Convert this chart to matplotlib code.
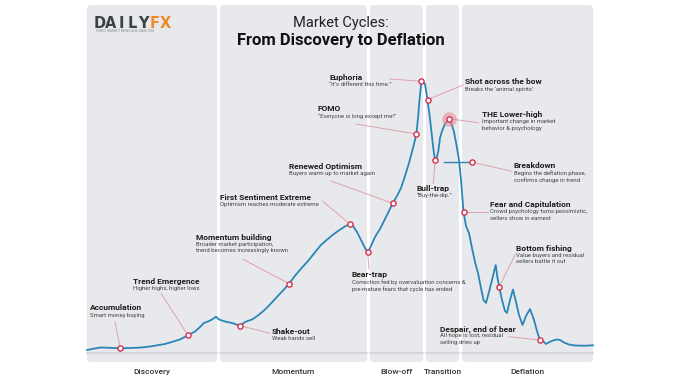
import matplotlib.pyplot as plt
from matplotlib.patches import FancyBboxPatch

plt.rcParams['font.family'] = ['Roboto', 'DejaVu Sans']

t = [87, 100, 110, 120.2, 130, 140, 150, 165, 180, 188, 195, 200, 204, 208, 212, 216,
     219, 225, 232, 240.2, 245, 252, 258, 264, 270, 276, 282, 289.2, 294, 299, 303,
     308, 312, 316, 321, 326, 332, 338, 344, 349.7, 353, 357, 361, 365, 367.7, 371,
     375, 380, 384, 388, 392.6, 397, 401, 405, 409, 413, 416.4, 418, 419.5, 421.4,
     423, 425, 427.5, 429.5, 431.5, 433.5, 435.2, 437, 438.5, 440, 442, 444.5, 448.6,
     451, 454, 456.5, 459, 461, 463.5, 466, 469, 472, 475, 478, 481, 483.5, 486, 489,
     492, 495.7, 497.5, 499.2, 502, 505, 507, 510, 513, 516, 519, 522.5, 526, 530,
     534, 537, 539.8, 543, 546, 549.5, 553, 557, 560, 564, 569, 575, 585, 593]
level = [350, 347.5, 347.8, 348.3, 348, 347.6, 346.5, 344, 339.5, 335.3, 331.5, 327,
         323, 321.5, 319.5, 316.7, 319.5, 321.5, 323, 325.7, 322, 319.5, 315.5, 310.5,
         304.5, 298, 291.5, 283.7, 277, 271, 266.5, 261, 256, 251, 245, 240.5, 235.5,
         231, 227, 224, 226, 232, 240, 248, 252.3, 246, 237, 229, 221, 213, 203.3, 196,
         188, 176, 163, 148, 134, 118, 100, 81.3, 82, 84, 99.7, 115, 132, 150, 160, 157,
         150, 138, 131, 125, 118.7, 122, 132, 145, 160, 180, 211.7, 226, 233, 248, 262,
         273, 288, 300, 303, 292, 280, 265, 278, 286.7, 300, 311, 313, 300, 289.5, 302,
         315, 325, 316, 309, 320, 331, 340, 341, 344, 342, 340.5, 339.5, 340, 342.5,
         344.5, 345.5, 345.7, 345.3]

phases = ['Discovery', 'Momentum', 'Blow-off', 'Transition', 'Deflation']
phase_start = [87, 220, 370, 426, 462]
phase_end = [217, 367, 423, 459, 593]

titles = ['Accumulation', 'Trend Emergence', 'Shake-out', 'Momentum building',
          'First Sentiment Extreme', 'Bear-trap', 'Renewed Optimism', 'FOMO',
          'Euphoria', 'Shot across the bow', 'Bull-trap', 'THE Lower-high',
          'Breakdown', 'Fear and Capitulation', 'Bottom fishing', 'Despair, end of bear']
notes = ['Smart money buying',
         'Higher highs, higher lows',
         'Weak hands sell',
         'Broader market participation,\ntrend becomes increasingly known',
         'Optimism reaches moderate extreme',
         'Correction fed by overvaluation concerns &\npre-mature fears that cycle has ended',
         'Buyers warm up to market again',
         '\u201cEveryone is long except me!\u201d',
         '\u201cIt\u2019s different this time.\u201d',
         'Breaks the \u2018animal spirits\u2019',
         '\u201cBuy-the-dip.\u201d',
         'Important change in market\nbehavior & psychology',
         'Begins the deflation phase,\nconfirms change in trend',
         'Crowd psychology turns pessimistic,\nsellers show in earnest',
         'Value buyers and residual\nsellers battle it out',
         'All hope is lost, residual\nselling dries up']
mark_t = [120.2, 188, 240.2, 289.2, 349.7, 367.7, 392.6, 416.4, 421.4, 427.5, 435.2,
          448.6, 472, 463.5, 499.2, 539.8]
mark_level = [348.3, 335.3, 325.7, 283.7, 224, 252.3, 203.3, 134, 81.3, 99.7, 160,
              118.7, 162.3, 211.7, 286.7, 340]

# layout of the call-outs: text position and where the thin leader ends
text_x = [89.5, 133, 272, 196, 220.5, 352, 289, 317.5, 329, 465, 416.5, 481.5, 514,
          490.5, 516, 439.5]
text_y = [308, 281.7, 331, 237.3, 197.7, 274.3, 166.3, 108.7, 77.3, 81.7, 188.3, 115,
          165.7, 205, 248, 329]
lead_x = [115, 161, 270, 243, 322.5, 369, 331, 356, 390, 463, 433.3, 478.5, 511, 488,
          515, 509]
lead_y = [321.7, 293.3, 333.3, 259.3, 201, 269.3, 181, 124, 79, 85, 183.3, 122.7, 171,
          211.7, 255, 336.7]

blue = '#2b86b8'
red = '#d7304c'
pink = '#dea2ac'

fig = plt.figure(figsize=(6.8, 3.82), dpi=100)
ax = fig.add_axes([0, 0, 1, 1])
ax.set_xlim(0, 680)
ax.set_ylim(382, 0)
ax.axis('off')

for name, x0, x1 in zip(phases, phase_start, phase_end):
    ax.add_patch(FancyBboxPatch((x0, 5), x1 - x0, 357,
                                boxstyle='round,pad=0,rounding_size=4',
                                fc='#e7e9ec', ec='none', zorder=0))
    ax.plot([x0, x1], [353, 353], color='#cfd2d7', lw=1.2, zorder=1)
    ax.text((x0 + x1) / 2, 372, name, ha='center', va='center', fontsize=6,
            fontweight='medium', color='#333333')

ax.plot(t, level, color=blue, lw=1.3, solid_joinstyle='round', zorder=3)
ax.plot([444, 472], [162.3, 162.3], color=blue, lw=1.0, zorder=3)

for i in range(len(titles)):
    ax.plot([mark_t[i], lead_x[i]], [mark_level[i], lead_y[i]], color=pink, lw=0.7,
            zorder=2)
    ax.text(text_x[i], text_y[i], titles[i], fontsize=6, fontweight='bold',
            color='#1c1c1c', va='center', ha='left')
    ax.text(text_x[i], text_y[i] + 4.5, notes[i], fontsize=4.3, color='#444444',
            va='top', ha='left', linespacing=1.3)

ax.scatter([mark_t[11]], [mark_level[11]], s=110, color='#e78592', alpha=0.55,
           lw=0, zorder=4)
ax.scatter(mark_t, mark_level, s=14, facecolor='white', edgecolor=red, lw=1.0,
           zorder=5)

# header
ax.text(340.5, 23, 'Market Cycles:', ha='center', va='center', fontsize=10.5,
        color='#222222')
ax.text(340.5, 41, 'From Discovery to Deflation', ha='center', va='center',
        fontsize=12, fontweight='bold', color='#111111')

logo = 'DAILYFX'
for k, ch in enumerate(logo):
    ax.text(100 + k * 10.9, 23, ch, ha='center', va='center', fontsize=10.5,
            fontweight='heavy', color='#f08a24' if k >= 5 else '#3c4047',
            family='DejaVu Sans')
ax.text(96, 31.5, 'FOREX MARKET NEWS AND ANALYSIS', fontsize=2.4, color='#8a8d92',
        va='center', ha='left')

fig.savefig('out.png', dpi=100, facecolor='white')
